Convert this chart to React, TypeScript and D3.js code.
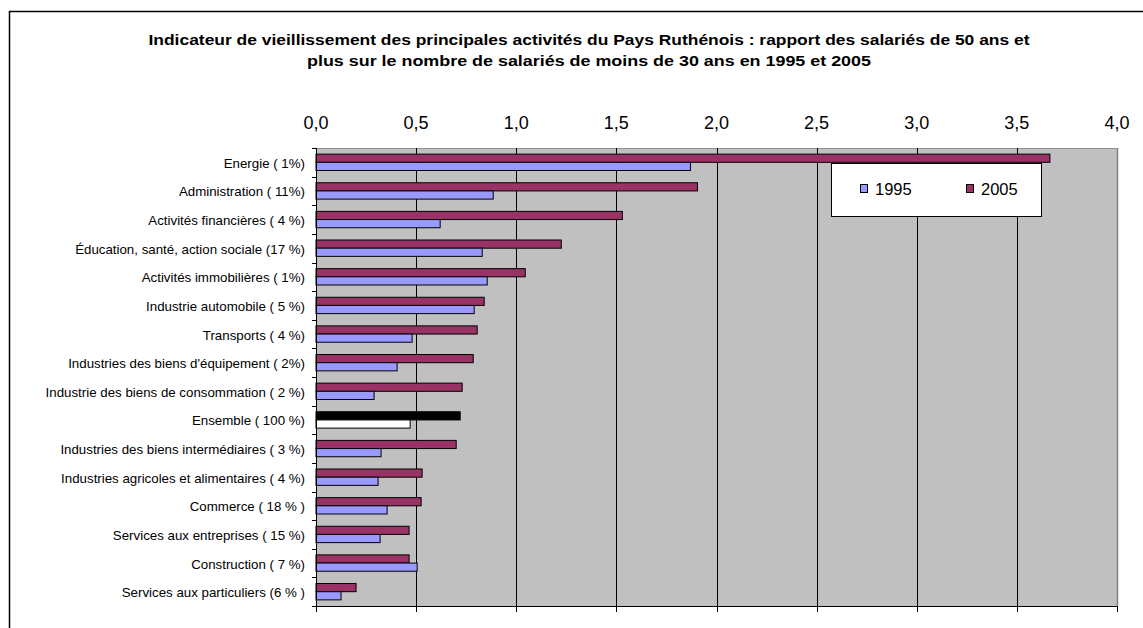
import React from "react";
import * as d3 from "d3";

const categories = [
  "Energie ( 1%)",
  "Administration ( 11%)",
  "Activités financières ( 4 %)",
  "Éducation, santé, action sociale (17 %)",
  "Activités immobilières ( 1%)",
  "Industrie automobile ( 5 %)",
  "Transports ( 4 %)",
  "Industries des biens d'équipement ( 2%)",
  "Industrie des biens de consommation ( 2 %)",
  "Ensemble ( 100 %)",
  "Industries des biens intermédiaires ( 3 %)",
  "Industries agricoles et alimentaires ( 4 %)",
  "Commerce ( 18 % )",
  "Services aux entreprises ( 15 %)",
  "Construction ( 7 %)",
  "Services aux particuliers (6 % )",
];
const values1995 = [1.87, 0.885, 0.62, 0.83, 0.855, 0.79, 0.48, 0.405, 0.29, 0.47, 0.325, 0.31, 0.355, 0.32, 0.505, 0.125];
const values2005 = [3.665, 1.905, 1.53, 1.225, 1.045, 0.84, 0.805, 0.785, 0.73, 0.72, 0.70, 0.53, 0.525, 0.465, 0.465, 0.2];
const seriesNames = ["1995", "2005"];
const xTicks = [0, 0.5, 1, 1.5, 2, 2.5, 3, 3.5, 4];
const highlight = "Ensemble ( 100 %)";
const titleLines = [
  "Indicateur de vieillissement des principales activités du Pays Ruthénois : rapport des salariés de 50 ans et",
  "plus sur le nombre de salariés de moins de 30 ans en 1995 et 2005",
];
const titleWidths = [881, 564];

export default function App() {
  const left = 316, right = 1117, top = 148, bottom = 606;
  const x = d3.scaleLinear().domain([0, 4]).range([left, right]);
  const y = d3.scaleBand().domain(categories).range([top, bottom]).paddingInner(0.4286).paddingOuter(0.2143);
  const bw = y.bandwidth() / 2;
  const step = y.step();
  const fmt = (v: number) => d3.format(".1f")(v).replace(".", ",");
  const font = "Liberation Sans, Arial, sans-serif";
  const c1995 = "#9999FF", c2005 = "#993366";

  return (
    <svg width={1143} height={628} style={{ position: "absolute", left: 0, top: 0 }}>
      <rect x={0} y={0} width={1143} height={628} fill="#fff" />
      <rect x={9.5} y={11.5} width={1150} height={640} fill="none" stroke="#000" strokeWidth={1.5} />
      {titleLines.map((t, i) => (
        <text key={i} x={589 - titleWidths[i] / 2} y={45 + i * 21} textLength={titleWidths[i]} lengthAdjust="spacingAndGlyphs" fontFamily={font} fontWeight="bold" fontSize={15} fill="#000">{t}</text>
      ))}
      <rect x={left} y={top} width={right - left} height={bottom - top} fill="#C0C0C0" />
      <line x1={right + 0.5} x2={right + 0.5} y1={top} y2={bottom} stroke="#808080" strokeWidth={1.5} />
      <line x1={left} x2={right} y1={top + 0.5} y2={top + 0.5} stroke="#909090" />
      {xTicks.map((t) => (
        <g key={t}>
          {t > 0 && t < 4 && <line x1={Math.round(x(t)) + 0.5} x2={Math.round(x(t)) + 0.5} y1={top} y2={bottom} stroke="#000" />}
          <line x1={Math.round(x(t)) + 0.5} x2={Math.round(x(t)) + 0.5} y1={bottom} y2={bottom + 6} stroke="#000" />
          <text x={x(t)} y={129} textAnchor="middle" fontFamily={font} fontSize={18} fill="#000">{fmt(t)}</text>
        </g>
      ))}
      {categories.map((c, i) => {
        const y0 = y(c)!;
        const isH = c === highlight;
        return (
          <g key={c}>
            <rect x={x(0)} y={y0} width={x(values2005[i]) - x(0)} height={bw} fill={isH ? "#000" : c2005} stroke="#000" strokeWidth={1} />
            <rect x={x(0)} y={y0 + bw} width={x(values1995[i]) - x(0)} height={bw} fill={isH ? "#fff" : c1995} stroke="#000" strokeWidth={1} />
            <text x={305} y={y0 + bw + 5.5} textAnchor="end" fontFamily={font} fontSize={13.3} fill="#000">{c}</text>
          </g>
        );
      })}
      {d3.range(categories.length + 1).map((k) => (
        <line key={k} x1={left - 4} x2={left} y1={Math.round(top + k * step) + 0.5} y2={Math.round(top + k * step) + 0.5} stroke="#000" />
      ))}
      <line x1={left + 0.5} x2={left + 0.5} y1={top} y2={bottom + 6} stroke="#000" />
      <line x1={left} x2={right} y1={bottom + 0.5} y2={bottom + 0.5} stroke="#000" />
      <g>
        <rect x={831.5} y={163.5} width={210} height={53} fill="#fff" stroke="#000" />
        {seriesNames.map((s, i) => (
          <g key={s}>
            <rect x={860.5 + i * 106} y={184.5} width={7} height={8} fill={i === 0 ? c1995 : c2005} stroke="#000" />
            <text x={875 + i * 106} y={194.5} fontFamily={font} fontSize={16.5} fill="#000">{s}</text>
          </g>
        ))}
      </g>
    </svg>
  );
}
